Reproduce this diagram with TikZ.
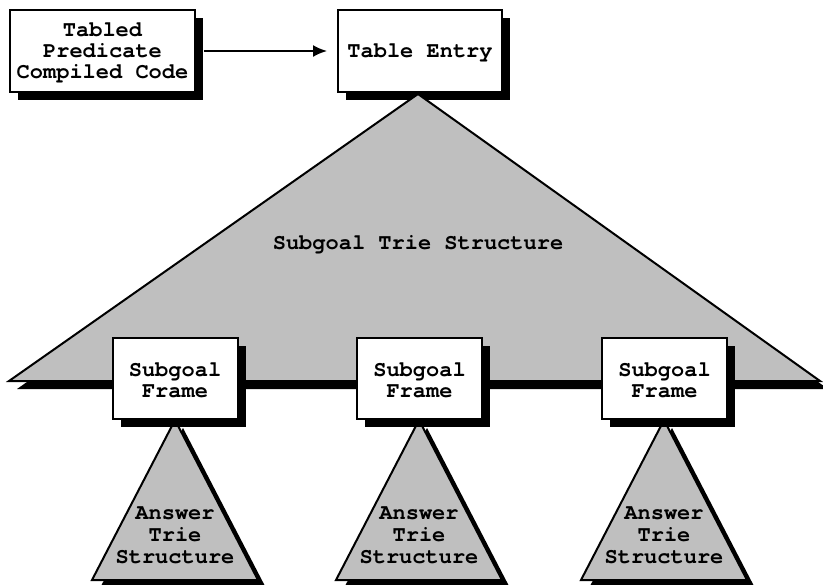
\documentclass[tikz,border=0pt]{standalone}
\usepackage{fontspec}
\setmainfont{TeX Gyre Cursor}
\usetikzlibrary{shadows,arrows.meta}
\begin{document}
\begin{tikzpicture}[x=0.5pt,y=-0.5pt,
  shadowed/.style={drop shadow={shadow xshift=4pt,shadow yshift=-4pt,opacity=1,fill=black}},
  label/.style={font=\fontsize{11}{11}\selectfont\bfseries,align=center,inner sep=0pt},
  framebox/.style={shadowed,draw=black,line width=1pt,fill=white,text depth=0pt,
    font=\fontsize{11}{10.5}\selectfont\bfseries,align=center},
  trie/.style={shadowed,draw=black,line width=1pt,fill=black!25},
  link/.style={line width=1pt,-{Latex[length=7pt,width=6pt]}}]
\useasboundingbox (0,0) rectangle (823,584);

% compiled code and table entry
\node[framebox,minimum width=91.5pt,minimum height=41pt] (code) at (102.5,51)
  {Tabled\\Predicate\\Compiled Code};
\node[framebox,minimum width=82pt,minimum height=41pt] (entry) at (420,51)
  {Table Entry};
\draw[link,shorten <=4pt,shorten >=5pt] (code) -- (entry);

% subgoal trie
\coordinate (sapex) at (418,94);
\coordinate (sleft) at (9,381);
\coordinate (sright) at (820,381);
\draw[trie] (sapex) -- (sright) -- (sleft) -- cycle;
\node[label] (slabel) at (418,245) {Subgoal Trie Structure};

% answer tries
\foreach \i/\x in {1/175,2/419,3/664}{
  \coordinate (a\i) at (\x,420);
  \coordinate (al\i) at (\x-83,580);
  \coordinate (ar\i) at (\x+83,580);
  \draw[trie] (a\i) -- (ar\i) -- (al\i) -- cycle;
  \node[label] (alabel\i) at (\x,535) {Answer\\Trie\\Structure};
}

% subgoal frames
\foreach \i/\x in {1/175,2/419.5,3/664.5}{
  \node[framebox,text height=19.5pt,minimum width=62.5pt,minimum height=40.5pt]
    (frame\i) at (\x,378) {Subgoal\\Frame};
}
\end{tikzpicture}
\end{document}
